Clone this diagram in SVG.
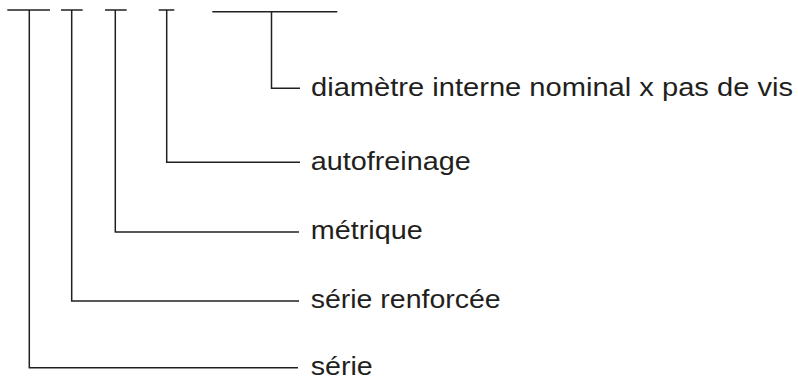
<svg xmlns="http://www.w3.org/2000/svg" width="798" height="383" viewBox="0 0 798 383">
<style>
.ln{fill:none;stroke:#231f20;stroke-width:1.5;stroke-linecap:butt}
.lb{font-family:"Liberation Sans",Arial,sans-serif;font-size:25px;fill:#231f20}
</style>
<rect width="798" height="383" fill="#ffffff"/>
<g id="designation">
<line class="ln" x1="7.3" y1="10" x2="50" y2="10"/>
<line class="ln" x1="61" y1="10" x2="82.7" y2="10"/>
<line class="ln" x1="105" y1="10" x2="126.7" y2="10"/>
<line class="ln" x1="158.7" y1="10" x2="174.3" y2="10"/>
<line class="ln" x1="212.3" y1="11.7" x2="337.3" y2="11.7"/>
</g>
<g id="connectors">
<polyline class="ln" points="29.3,10 29.3,367.7 298,367.7"/>
<polyline class="ln" points="71.7,10 71.7,301 299,301"/>
<polyline class="ln" points="115.3,10 115.3,232 299,232"/>
<polyline class="ln" points="166.7,10 166.7,162.3 300,162.3"/>
<polyline class="ln" points="271.5,11.7 271.5,88.3 300,88.3"/>
</g>
<g id="n-diametre"><text class="lb" x="311" y="95.7" textLength="482" lengthAdjust="spacingAndGlyphs">diamètre interne nominal x pas de vis</text></g>
<g id="n-autofreinage"><text class="lb" x="310.7" y="169.5" textLength="160" lengthAdjust="spacingAndGlyphs">autofreinage</text></g>
<g id="n-metrique"><text class="lb" x="310.7" y="239.2" textLength="112" lengthAdjust="spacingAndGlyphs">métrique</text></g>
<g id="n-serie-renforcee"><text class="lb" x="310.7" y="308" textLength="190" lengthAdjust="spacingAndGlyphs">série renforcée</text></g>
<g id="n-serie"><text class="lb" x="310.7" y="374.8" textLength="62" lengthAdjust="spacingAndGlyphs">série</text></g>
</svg>
